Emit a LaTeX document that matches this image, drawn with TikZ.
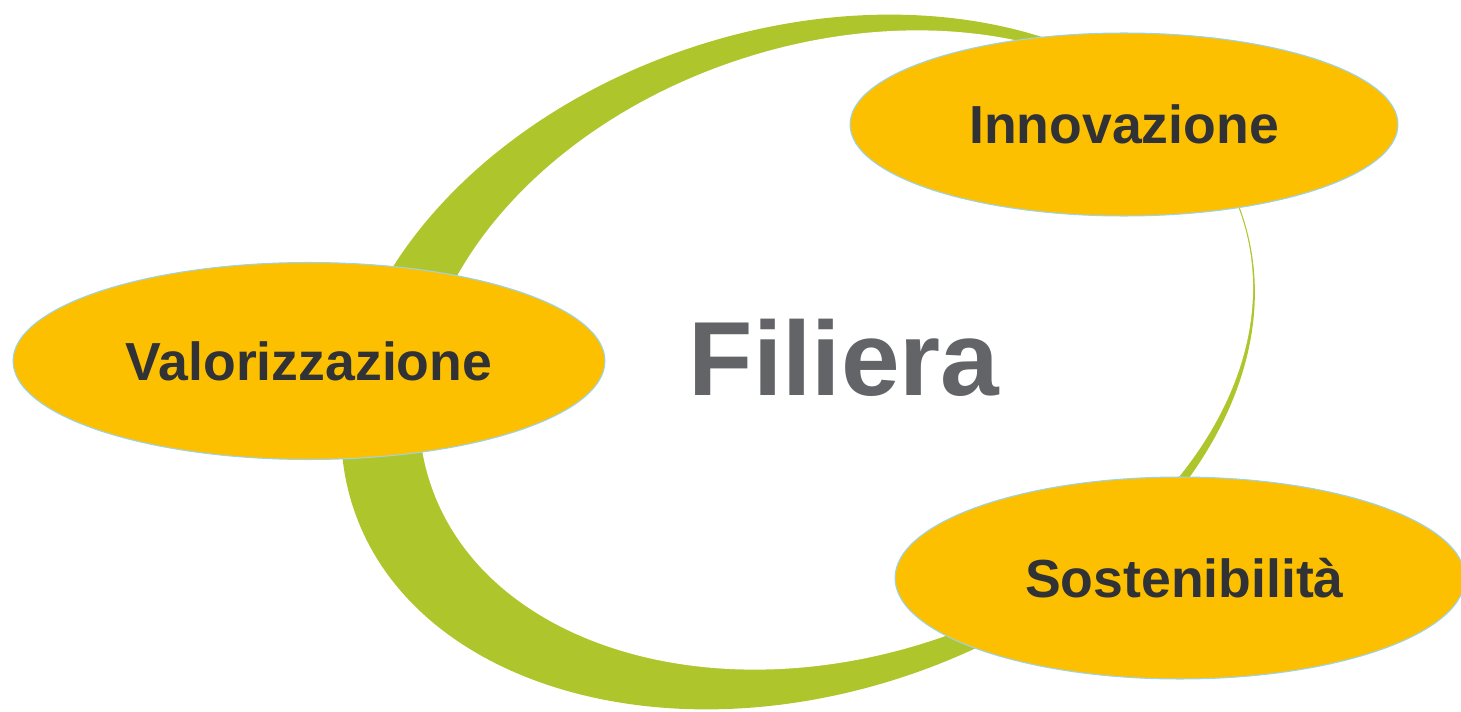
\documentclass[tikz,border=0pt]{standalone}
\usepackage{fontspec}
\setmainfont{Liberation Sans}
\usetikzlibrary{shapes.geometric}
\definecolor{greenx}{HTML}{AEC62C}
\definecolor{yellowx}{HTML}{FDC000}
\definecolor{edgex}{HTML}{9DD3E6}
\definecolor{inkx}{HTML}{303236}
\definecolor{greyx}{HTML}{636468}
\tikzset{
  topic/.style={ellipse,draw=edgex,line width=0.6pt,fill=yellowx,text=inkx,inner sep=0pt,
    font=\fontsize{30.5}{36}\selectfont\bfseries}
}
\begin{document}
\begin{tikzpicture}[x=0.02cm,y=0.02cm]
\useasboundingbox (0,0) rectangle (1461,711);
% green ring: outer ellipse minus an offset inner one
\fill[greenx,rotate around={18:(798,349)}] (798,349) ellipse[x radius=468,y radius=332];
\fill[white,rotate around={18:(836,361)}] (836,361) ellipse[x radius=427,y radius=306];
\node[font=\fontsize{60}{72}\selectfont\bfseries,text=greyx,anchor=base,inner sep=0pt] (filiera) at (844,316) {Filiera};
\node[topic,minimum width=10.96cm,minimum height=3.66cm] (innov) at (1124,586.5) {Innovazione};
\node[topic,minimum width=11.84cm,minimum height=3.94cm] (valor) at (309,350) {Valorizzazione};
\node[topic,minimum width=11.4cm,minimum height=4.04cm] (soste) at (1180,133) {\hspace{5pt}Sostenibilità};
\end{tikzpicture}
\end{document}
